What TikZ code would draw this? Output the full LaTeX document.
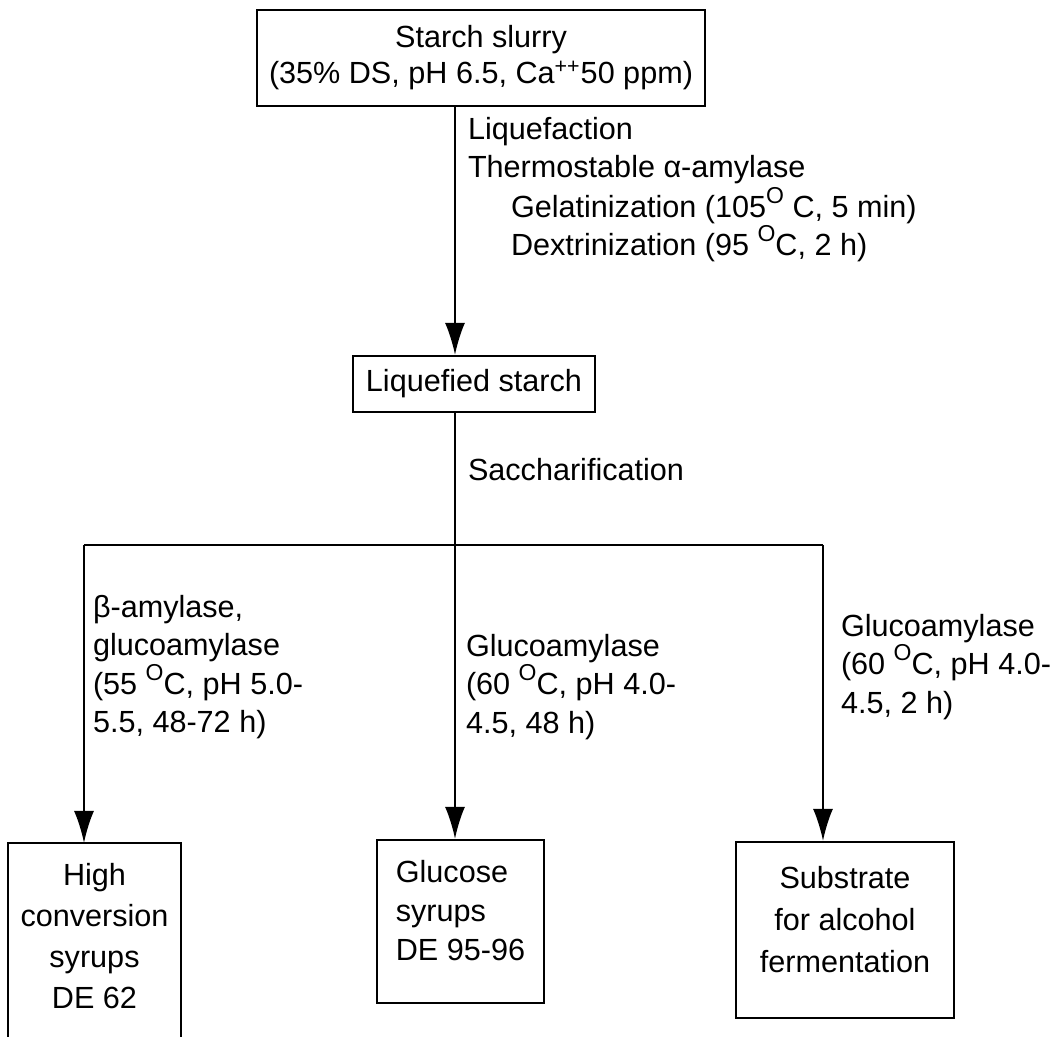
\documentclass[tikz,border=0pt]{standalone}
\usepackage{fontspec}
\setmainfont{Liberation Sans}
\usetikzlibrary{arrows.meta}

\tikzset{
  box/.style={draw, line width=1.1pt, align=center, inner sep=2pt},
  openbox/.style={align=center, inner sep=2pt},
  lbl/.style={anchor=north west, align=left, inner sep=0pt},
  arr/.style={-{Latex[length=16pt,width=10pt]}},
}
\newcommand{\degO}{\smash{\raisebox{0.85ex}{\fontsize{11.5}{11.5}\selectfont O}}}

\begin{document}
\begin{tikzpicture}[x=0.5pt, y=-0.5pt, line width=1pt, font=\fontsize{15.3}{19.25}\selectfont]
    \useasboundingbox (0,0) rectangle (1062,1037);
    \clip (0,0) rectangle (1062,1037);

    \node[box, minimum width=224pt, minimum height=48pt, font=\fontsize{15.3}{18}\selectfont] (slurry) at (481,58)
        {Starch slurry\\(35\% DS, pH 6.5, Ca\textsuperscript{++}50 ppm)};
    \node[box, minimum width=121pt, minimum height=28pt] (liq) at (474,384) {Liquefied starch};

    \node[openbox, minimum width=85.5pt, minimum height=92pt, font=\fontsize{15.3}{20.5}\selectfont] (hcs) at (94.5,936)
        {High\\conversion\\syrups\\DE 62};
    \node[box, align=left, minimum width=83.5pt, minimum height=81.5pt, text depth=11pt, font=\fontsize{15.3}{19.5}\selectfont] (glu) at (460.5,921.5)
        {Glucose\\syrups\\DE 95-96};
    \node[box, minimum width=109pt, minimum height=88pt, text depth=11pt, font=\fontsize{15.3}{21}\selectfont] (sub) at (845,930)
        {Substrate\\for alcohol\\fermentation};
    \draw[line width=1.1pt] ([yshift=-10pt] hcs.south west) -- (hcs.north west) -- (hcs.north east) -- ([yshift=-10pt] hcs.south east);

    \coordinate (junc) at (455,545);
    \coordinate (jl) at (84,545);
    \coordinate (jr) at (823,545);

    \draw[arr] (slurry.south -| junc) -- (liq.north -| junc);
    \draw (liq.south -| junc) -- (junc);
    \draw (jl) -- (jr);
    \draw[arr] (jl) -- (hcs.north -| jl);
    \draw[arr] (junc) -- (glu.north -| junc);
    \draw[arr] (jr) -- (sub.north -| jr);

    \node[lbl] (liqlbl) at (467,116) {Liquefaction\\Thermostable α-amylase};
    \node[lbl] (gellbl) at (510,194) {Gelatinization (105\degO{} C, 5 min)\\Dextrinization (95 \degO C, 2 h)};
    \node[lbl] (sacclbl) at (467,457) {Saccharification};
    \node[lbl] (hcslbl) at (92,594) {β-amylase,\\glucoamylase\\(55 \degO C, pH 5.0-\\5.5, 48-72 h)};
    \node[lbl] (glulbl) at (465,633) {Glucoamylase\\(60 \degO C, pH 4.0-\\4.5, 48 h)};
    \node[lbl] (sublbl) at (840,613) {Glucoamylase\\(60 \degO C, pH 4.0-\\4.5, 2 h)};
\end{tikzpicture}
\end{document}
